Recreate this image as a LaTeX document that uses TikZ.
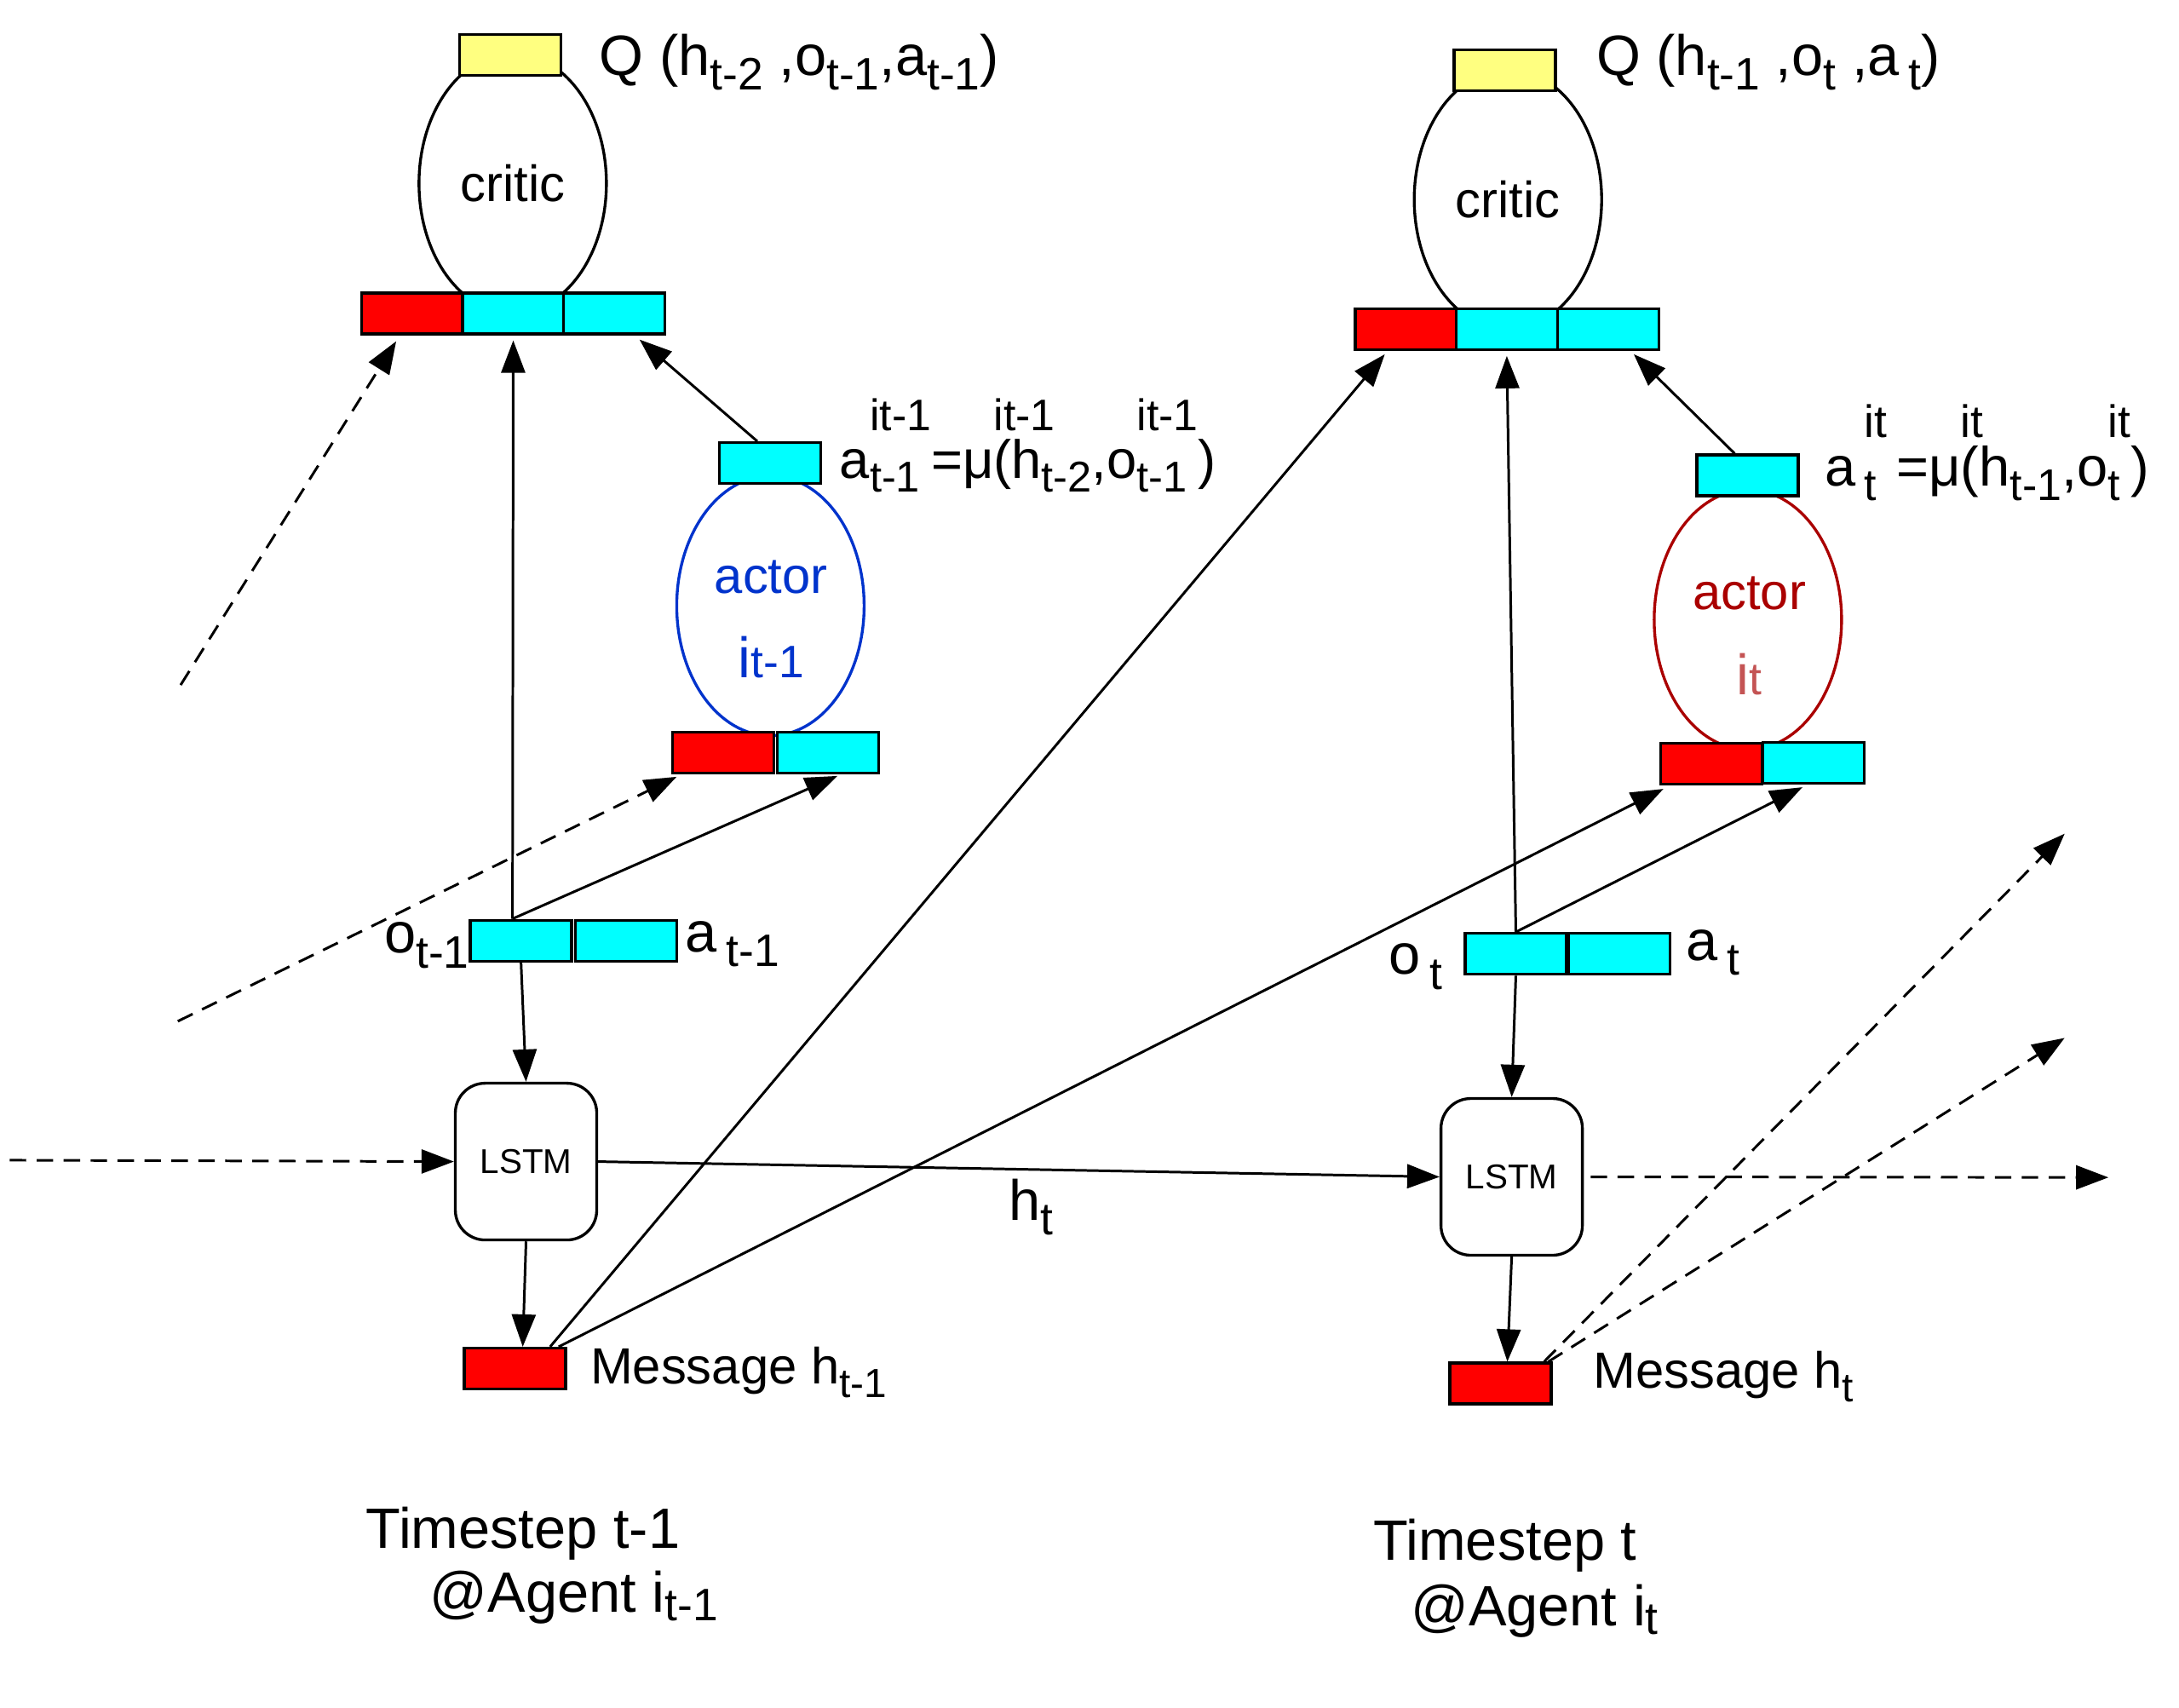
\documentclass[tikz,border=0pt]{standalone}
\usepackage{fontspec}
\setmainfont{Liberation Sans}
\usepackage{graphicx}
\usetikzlibrary{arrows.meta,shapes}
\definecolor{qyellow}{RGB}{255,255,128}
\definecolor{cellcyan}{RGB}{0,255,255}
\definecolor{cellred}{RGB}{255,0,0}
\definecolor{actblue}{RGB}{0,51,204}
\definecolor{actred}{RGB}{170,0,0}
\definecolor{agentred}{RGB}{196,84,84}
\newcommand{\subtx}[1]{\raisebox{-0.5ex}{\scalebox{0.8}{#1}}}
\newcommand{\suptx}[1]{\raisebox{1.65ex}{\scalebox{0.82}{#1}}}
\newcommand{\bothtx}[2]{\setbox0=\hbox{\suptx{#1}}\setbox2=\hbox{\subtx{#2}}\ifdim\wd0>\wd2 \rlap{\box2}\box0\else\rlap{\box0}\box2\fi}
\tikzstyle{cyan cell}=[rectangle,draw,fill=cellcyan,minimum width=1.19cm,minimum height=0.48cm,inner sep=0pt,line width=0.95pt]
\tikzstyle{red cell}=[cyan cell,fill=cellred]
\tikzstyle{q cell}=[cyan cell,fill=qyellow]
\tikzstyle{net}=[ellipse,draw,fill=white,minimum width=2.2cm,minimum height=3.05cm,inner sep=0pt,line width=0.95pt,font=\fontsize{17}{20}\selectfont]
\tikzstyle{lstm}=[rectangle,draw,rounded corners=0.35cm,fill=white,minimum width=1.66cm,minimum height=1.84cm,line width=0.95pt,font=\fontsize{11.5}{13}\selectfont]
\tikzstyle{lbl}=[inner sep=0pt,anchor=base west,font=\fontsize{19}{22}\selectfont]
\tikzstyle{edge}=[draw,line width=0.85pt,-{Triangle[length=0.38cm,width=0.28cm]}]
\tikzstyle{dashed edge}=[edge,dash pattern=on 5.5pt off 3.5pt]

\begin{document}
\begin{tikzpicture}[x=0.01631cm,y=-0.01631cm]
          \useasboundingbox (0,0) rectangle (1568.3,1228.7);
          % timestep t-1
          \node[net] (critL) at (369,132) {critic};
          \node[net,draw=actblue] (actL) at (554.5,436) {};
          \node[q cell] (qL) at (367.4,39.4) {};
          \node[red cell] (cL1) at (296.8,225.6) {};
          \node[cyan cell] (cL2) at (369.4,225.6) {};
          \node[cyan cell] (cL3) at (441.9,225.6) {};
          \node[cyan cell] (aoL) at (554.2,333.3) {};
          \node[red cell] (aiL1) at (520.5,541.5) {};
          \node[cyan cell] (aiL2) at (596,541.5) {};
          \node[cyan cell] (oL) at (375,677) {};
          \node[cyan cell] (aL) at (450.5,677) {};
          \node[lstm] (lstmL) at (378.6,836) {LSTM};
          \node[red cell] (msgL) at (370.7,985) {};
          \node[font=\fontsize{17}{20}\selectfont,text=actblue,anchor=base] (actLa) at (555,427) {actor};
          \node[font=\fontsize{19}{22}\selectfont,text=actblue,anchor=base] (actLi) at (555,488) {i\scalebox{0.8}{t-1}};
          \node[lbl] (qlabL) at (431,54) {Q (h\subtx{t-2} ,o\subtx{t-1},a\subtx{t-1})};
          \node[lbl,font=\fontsize{18}{20}\selectfont] (polL) at (604,344) {a\bothtx{it-1}{t-1}=μ\rlap{\suptx{it-1}}(h\subtx{t-2},o\bothtx{it-1}{t-1})};
          \node[lbl,anchor=base east] (oLlab) at (338,686) {o\subtx{t-1}};
          \node[lbl] (aLlab) at (492.8,685) {a\,\subtx{t-1}};
          \node[lbl,font=\fontsize{17}{20}\selectfont] (msgLlab) at (424.5,996) {Message h\subtx{t-1}};
          \node[lbl] (tsL) at (263,1114) {Timestep t-1};
          \node[lbl] (agL) at (309,1160) {@Agent i\raisebox{-0.3ex}{\scalebox{0.8}{t-1}}};
          % timestep t
          \node[net] (critR) at (1085.3,143.6) {critic};
          \node[net,draw=actred] (actR) at (1258,446) {};
          \node[q cell] (qR) at (1083,50.6) {};
          \node[red cell] (cR1) at (1012,236.8) {};
          \node[cyan cell] (cR2) at (1084.5,236.8) {};
          \node[cyan cell] (cR3) at (1157.5,236.8) {};
          \node[cyan cell] (aoR) at (1257.7,342.2) {};
          \node[red cell] (aiR1) at (1231.6,549.6) {};
          \node[cyan cell] (aiR2) at (1305.2,549) {};
          \node[cyan cell] (oR) at (1091,686.5) {};
          \node[cyan cell] (aR) at (1165.6,686.5) {};
          \node[lstm] (lstmR) at (1088,847) {LSTM};
          \node[red cell] (msgR) at (1080,995.7) {};
          \node[font=\fontsize{17}{20}\selectfont,text=actred,anchor=base] (actRa) at (1259,438.4) {actor};
          \node[font=\fontsize{19}{22}\selectfont,text=agentred,anchor=base] (actRi) at (1259,500) {i\scalebox{0.8}{t}};
          \node[lbl] (qlabR) at (1148.6,54) {Q (h\subtx{t-1} ,o\subtx{t} ,a\,\subtx{t})};
          \node[lbl,font=\fontsize{18.5}{20}\selectfont] (polR) at (1312.8,349.6) {a\,\bothtx{it}{t}\,=μ\rlap{\suptx{it}}(h\subtx{t-1},o\bothtx{it}{t})};
          \node[lbl] (oRlab) at (999,701) {o\,\subtx{t}};
          \node[lbl] (aRlab) at (1213,691) {a\,\subtx{t}};
          \node[lbl,font=\fontsize{17}{20}\selectfont] (msgRlab) at (1146.4,999) {Message h\subtx{t}};
          \node[lbl] (tsR) at (988,1123) {Timestep t};
          \node[lbl] (agR) at (1015,1170) {@Agent i\raisebox{-0.3ex}{\scalebox{0.8}{t}}};
          \node[lbl,anchor=base] (htlab) at (742,878) {h\subtx{t}};
          % loose ends
          \coordinate (inL1) at (130,493);
          \coordinate (inL2) at (128,735);
          \coordinate (inL3) at (7,835);
          \coordinate (outR1) at (1517.5,847.4);
          \coordinate (outR2) at (1486,600);
          \coordinate (outR3) at (1486,747);
          % edges t-1
          \draw[dashed edge] (inL1) to ([xshift=-0.19cm,yshift=-0.07cm]cL1.south);
          \draw[edge] ([xshift=-0.1cm]oL.north) to ([yshift=-0.06cm]cL2.south);
          \draw[edge] ([xshift=-0.15cm]aoL.north) to ([xshift=0.3cm,yshift=-0.05cm]cL3.south);
          \draw[dashed edge] (inL2) to ([xshift=0.065cm,yshift=-0.03cm]aiL1.south west);
          \draw[edge] ([xshift=-0.1cm]oL.north) to ([xshift=0.11cm,yshift=-0.02cm]aiL2.south);
          \draw[edge] (oL.south) to (lstmL.north);
          \draw[dashed edge] (inL3) to (lstmL.west);
          \draw[edge] (lstmL.east) to (lstmR.west);
          \draw[edge] (lstmL.south) to ([xshift=0.09cm]msgL.north);
          \draw[edge] ([xshift=-0.2cm]msgL.north east) to ([xshift=-0.25cm,yshift=-0.04cm]cR1.south);
          \draw[edge] ([xshift=-0.1cm]msgL.north east) to ([xshift=0.05cm,yshift=-0.04cm]aiR1.south west);
          % edges t
          \draw[edge] (oR.north) to ([yshift=-0.06cm]cR2.south);
          \draw[edge] ([xshift=-0.15cm]aoR.north) to ([xshift=0.3cm,yshift=-0.04cm]cR3.south);
          \draw[edge] (oR.north) to ([xshift=-0.13cm,yshift=-0.03cm]aiR2.south);
          \draw[edge] (oR.south) to (lstmR.north);
          \draw[edge] (lstmR.south) to ([xshift=0.08cm]msgR.north);
          \draw[dashed edge] ([xshift=0.08cm]lstmR.east) to (outR1);
          \draw[dashed edge] ([xshift=-0.1cm]msgR.north east) to (outR2);
          \draw[dashed edge] ([xshift=-0.05cm]msgR.north east) to (outR3);
\end{tikzpicture}
\end{document}
